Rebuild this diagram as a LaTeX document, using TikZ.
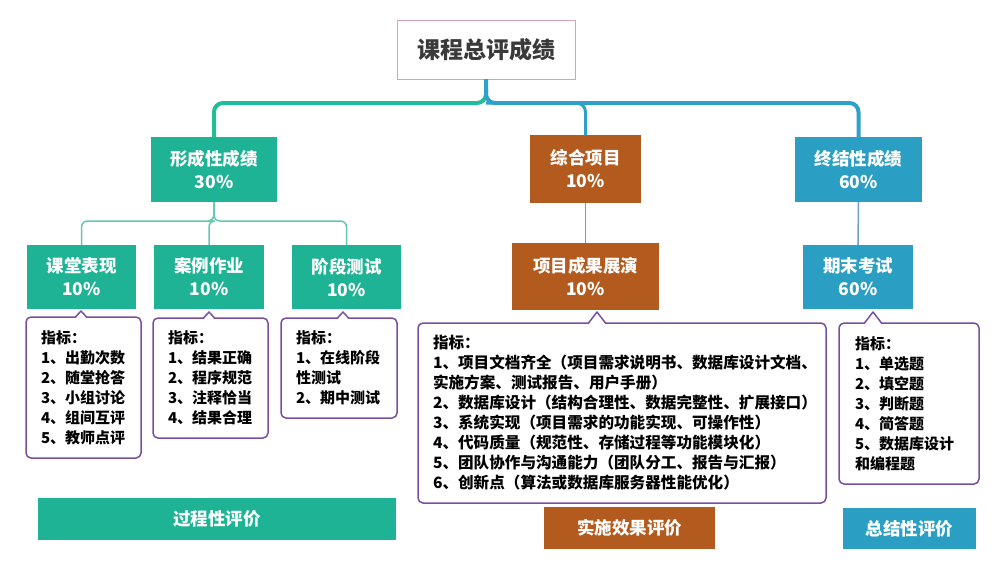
\documentclass[tikz,border=0pt]{standalone}
\usepackage{fontspec}
\setmainfont{Noto Sans CJK SC}
\usepackage{tikz}
\usetikzlibrary{calc,positioning}
\definecolor{formgreen}{HTML}{1DB394}
\definecolor{projbrown}{HTML}{B35A1F}
\definecolor{summblue}{HTML}{2B9FC3}
\definecolor{linegreen}{HTML}{22BC98}
\definecolor{lineblue}{HTML}{2F9FCB}
\definecolor{thingreen}{HTML}{62C8B4}
\definecolor{thinblue}{HTML}{6A9FC8}
\definecolor{callpurple}{HTML}{7B4FA0}
\definecolor{titlepink}{HTML}{D9A0B9}
\definecolor{titlegray}{HTML}{3A3A3A}
\newcommand{\lblfont}{\fontsize{17.5pt}{23pt}\selectfont\bfseries}
\newcommand{\idxfont}{\fontsize{15pt}{20pt}\selectfont\bfseries}
\newcommand{\tip}[4]{%
  \fill[white] ($(#1.north)+(#2-#4,1.5)$) -- ($(#1.north)+(#2,-#3)$) -- ($(#1.north)+(#2+#4,1.5)$) -- cycle;
  \draw[callpurple,line width=1.5pt,line join=round] ($(#1.north)+(#2-#4,0)$) -- ($(#1.north)+(#2,-#3)$) -- ($(#1.north)+(#2+#4,0)$);}

\begin{document}
\begin{tikzpicture}[x=1pt,y=-1pt,
    box/.style={fill=#1,text=white,font=\lblfont,align=center,inner sep=0pt,outer sep=0pt},
    callout/.style={draw=callpurple,line width=1.5pt,rounded corners=5pt,fill=white,font=\idxfont,
      align=left,inner xsep=15pt,inner ysep=0pt,outer sep=0pt,text width=#1},
    trunk/.style={draw=#1,line width=4pt,rounded corners=9pt},
    twig/.style={draw=#1,line width=1.5pt,rounded corners=6pt}]
  \useasboundingbox (0,0) rectangle (998,562);

  \node[draw=titlepink,line width=1pt,fill=white,text=titlegray,font=\fontsize{23pt}{28pt}\selectfont\bfseries,
    minimum width=178pt,minimum height=59pt,inner sep=0pt,outer sep=0pt] (total) at (486,49.5) {课程总评成绩};

  \node[box=formgreen,minimum width=126pt,minimum height=65pt] (form) at (214,169.5) {形成性成绩\\30\%};
  \node[box=projbrown,minimum width=111pt,minimum height=68pt] (proj) at (585.5,169) {综合项目\\10\%};
  \node[box=summblue,minimum width=127pt,minimum height=65pt] (summ) at (858.5,169.5) {终结性成绩\\60\%};

  \node[box=formgreen,minimum width=109pt,minimum height=64pt] (class) at (81.5,277) {课堂表现\\10\%};
  \node[box=formgreen,minimum width=110pt,minimum height=64pt] (case) at (209,277) {案例作业\\10\%};
  \node[box=formgreen,minimum width=109pt,minimum height=64pt] (test) at (346.5,277) {阶段测试\\10\%};
  \node[box=projbrown,minimum width=147pt,minimum height=67pt] (show) at (585.5,276.5) {项目成果展演\\10\%};
  \node[box=summblue,minimum width=110pt,minimum height=64pt] (exam) at (858,277) {期末考试\\60\%};

  \coordinate (hub) at (486,103);
  \draw[trunk=linegreen] ($(hub)+(0,-14)$) -- (hub) -| (form.north);
  \draw[trunk=lineblue] (total.south) -- (hub) -| (summ.north);
  \draw[trunk=lineblue,line width=3pt] (hub) -| (proj.north);

  \draw[twig=thingreen] (form.south) -- ++(0,19) -| (class.north);
  \draw[twig=thingreen] (form.south) -- ++(0,19) -| (case.north);
  \draw[twig=thingreen] (form.south) -- ++(0,19) -| (test.north);
  \draw[twig=thinblue] (proj.south) -- (show.north);
  \draw[twig=thinblue] (summ.south) -- (exam.north);

  \node[callout=85pt,minimum width=115pt,minimum height=141pt] (c1) at (83.5,387.5)
    {指标：\\1、出勤次数\\2、随堂抢答\\3、小组讨论\\4、组间互评\\5、教师点评};
  \node[callout=85pt,minimum width=115pt,minimum height=120pt] (c2) at (210.5,378)
    {指标：\\1、结果正确\\2、程序规范\\3、注释恰当\\4、结果合理};
  \node[callout=86pt,minimum width=116pt,minimum height=100pt] (c3) at (339,368)
    {指标：\\1、在线阶段\\性测试\\2、期中测试};
  \node[callout=378pt,minimum width=408pt,minimum height=180pt,inner xsep=15pt,
    font=\fontsize{15.6pt}{20pt}\selectfont\bfseries] (c4) at (622,413)
    {指标：\\1、项目文档齐全（项目需求说明书、数据库设计文档、\\实施方案、测试报告、用户手册）\\
     2、数据库设计（结构合理性、数据完整性、扩展接口）\\3、系统实现（项目需求的功能实现、可操作性）\\
     4、代码质量（规范性、存储过程等功能模块化）\\5、团队协作与沟通能力（团队分工、报告与汇报）\\
     6、创新点（算法或数据库服务器性能优化）};
  \node[callout=108pt,minimum width=140pt,minimum height=161pt,inner xsep=16pt] (c5) at (909,403.5)
    {指标：\\1、单选题\\2、填空题\\3、判断题\\4、简答题\\5、数据库设计\\和编程题};
  \tip{c1}{-2.5}{6}{5.5}
  \tip{c2}{-1.5}{6}{5.5}
  \tip{c3}{4}{6}{5.5}
  \tip{c4}{-25}{11}{8.5}
  \tip{c5}{-36}{11}{8.5}

  \node[box=formgreen,minimum width=358pt,minimum height=42pt] (procev) at (217,519) {过程性评价};
  \node[box=projbrown,minimum width=171pt,minimum height=42pt] (effev) at (629.5,528) {实施效果评价};
  \node[box=summblue,minimum width=133pt,minimum height=41pt] (sumev) at (909.5,528.5) {总结性评价};
\end{tikzpicture}
\end{document}
